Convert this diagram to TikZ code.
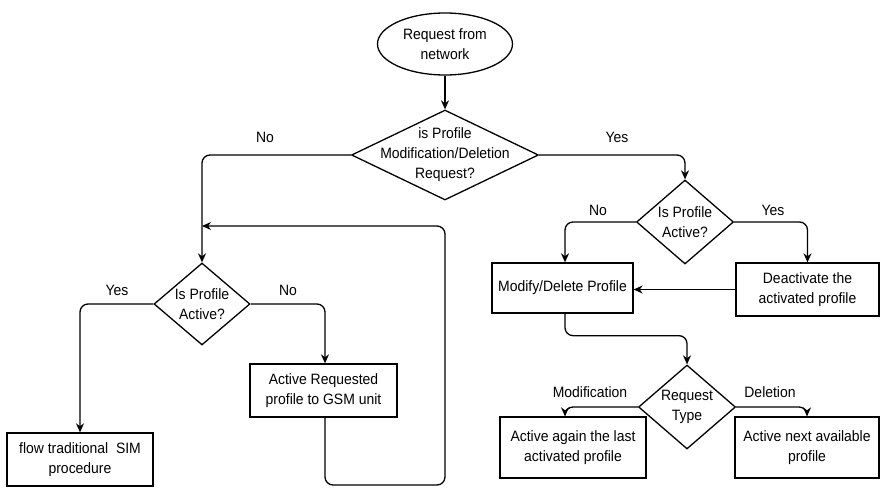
\documentclass[tikz,border=0pt]{standalone}
\usepackage{fontspec}
\setmainfont[FakeStretch=0.93]{Liberation Sans}
\usetikzlibrary{arrows.meta,shapes.geometric}
\tikzset{
  flowline/.style={line width=1.3pt,rounded corners=8pt,-{Stealth[length=9pt,width=8pt]}},
  stepbox/.style={draw,line width=1.3pt,rectangle,align=center,inner sep=2pt},
  decision/.style={draw,line width=1.3pt,diamond,inner sep=0pt},
  txt/.style={align=center,inner sep=0pt},
}
\begin{document}
\begin{tikzpicture}[x=1pt,y=-1pt,font=\fontsize{15}{20}\selectfont]
\useasboundingbox (0,0) rectangle (882,489);
% start and first question
\node[draw,line width=1.3pt,ellipse,minimum width=135pt,minimum height=62pt,align=center] (start) at (445,44) {Request from\\network};
\node[decision,minimum width=187pt,minimum height=90pt] (q1) at (445,155) {};
\node[txt] (q1t) at (q1) {is Profile\\Modification/Deletion\\Request?};
% left branch
\node[decision,minimum width=96pt,minimum height=82pt] (q2) at (202,304) {};
\node[txt] (q2t) at (q2) {Is Profile\\Active?};
\node[stepbox,minimum width=146pt,minimum height=53pt] (flow) at (80,459.5) {flow traditional\ \ SIM\\procedure};
\node[stepbox,minimum width=147pt,minimum height=53pt] (active) at (323.5,390.5) {Active Requested\\profile to GSM unit};
% right branch
\node[decision,minimum width=97pt,minimum height=84pt] (q3) at (685,222) {};
\node[txt] (q3t) at (q3) {Is Profile\\Active?};
\node[stepbox,minimum width=141pt,minimum height=50pt] (modify) at (562.5,288) {Modify/Delete Profile};
\node[stepbox,minimum width=143pt,minimum height=53pt] (deact) at (807.5,289.5) {Deactivate the\\activated profile};
\node[decision,minimum width=97pt,minimum height=84pt] (q4) at (687,407) {};
\node[txt] (q4t) at (q4) {Request\\Type};
\node[stepbox,minimum width=146pt,minimum height=61pt] (again) at (573,447.5) {Active again the last\\activated profile};
\node[stepbox,minimum width=144pt,minimum height=61pt] (next) at (807,447.5) {Active next available\\profile};
% labels
\node (lno1) at (265,137) {No};
\node (lyes1) at (617,137) {Yes};
\node (lyes2) at (117,290) {Yes};
\node (lno2) at (288,290) {No};
\node (lno3) at (598,210) {No};
\node (lyes3) at (773,210) {Yes};
\node (lmod) at (590,392) {Modification};
\node (ldel) at (770,392) {Deletion};
% loop back
\coordinate (loopbot) at (445,485);
\coordinate (looptop) at (445,226);
\coordinate (loopend) at (202,226);
% connectors
\draw[flowline] (start) -- (q1);
\draw[flowline] (q1.west) -| (q2.north);
\draw[flowline] (q1.east) -| (q3.north);
\draw[flowline] (q2.west) -| (flow.north);
\draw[flowline] (q2.east) -| ([xshift=1.5pt]active.north);
\draw[flowline] ([xshift=1.5pt]active.south) |- (loopbot) -- (looptop) -- (loopend);
\draw[flowline] (q3.west) -| ([xshift=2.5pt]modify.north);
\draw[flowline] (q3.east) -| (deact.north);
\draw[flowline] (deact.west) -- (deact.west -| modify.east);
\draw[flowline] ([xshift=2.5pt]modify.south) -- ++(0,22) -| (q4.north);
\draw[flowline] (q4.west) -| ([xshift=-8pt]again.north);
\draw[flowline] (q4.east) -| (next.north);
\end{tikzpicture}
\end{document}
